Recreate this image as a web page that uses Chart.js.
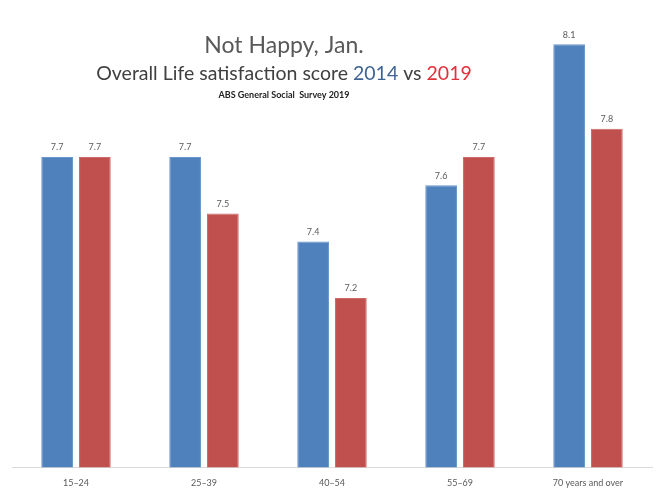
<!DOCTYPE html>
<html>
<head>
<meta charset="utf-8">
<script src="https://cdn.jsdelivr.net/npm/chart.js@4"></script>
<style>
  html, body { margin: 0; padding: 0; background: #fff; }
  #wrap { width: 664px; height: 499px; position: relative; }
</style>
</head>
<body>
<div id="wrap"><canvas id="chart"></canvas></div>
<script>
// data
const ageGroups = ["15\u201324", "25\u201339", "40\u201354", "55\u201369", "70 years and over"];
const score2014 = [7.7, 7.7, 7.4, 7.6, 8.1];
const score2019 = [7.7, 7.5, 7.2, 7.7, 7.8];

const blue = "#4F81BD";
const red = "#C0504D";
const grey = "#595959";
const font = "Lato, 'Liberation Sans', sans-serif";

// titles drawn by hand because the subtitle has coloured words
const titlePlugin = {
  id: "titles",
  afterDraw(chart) {
    const ctx = chart.ctx;
    const cx = 284;
    ctx.save();
    ctx.textBaseline = "alphabetic";
    ctx.textAlign = "center";
    ctx.fillStyle = grey;
    ctx.font = "23px " + font;
    ctx.fillText("Not Happy, Jan.", cx, 53);

    // subtitle in three colours
    ctx.font = "19.5px " + font;
    const parts = [["Overall Life satisfaction score ", "#404040"], ["2014", "#3F6494"], [" vs ", "#404040"], ["2019", "#E0303A"]];
    let total = 0;
    parts.forEach(p => total += ctx.measureText(p[0]).width);
    let x = cx - total / 2;
    ctx.textAlign = "left";
    parts.forEach(p => {
      ctx.fillStyle = p[1];
      ctx.fillText(p[0], x, 80);
      x += ctx.measureText(p[0]).width;
    });

    ctx.textAlign = "center";
    ctx.fillStyle = "#222";
    ctx.font = "bold 9px " + font;
    ctx.fillText("ABS General Social  Survey 2019", cx, 98);
    ctx.restore();
  }
};

// value labels over each bar
const labelPlugin = {
  id: "barLabels",
  afterDatasetsDraw(chart) {
    const ctx = chart.ctx;
    ctx.save();
    ctx.font = "9px " + font;
    ctx.fillStyle = grey;
    ctx.textAlign = "center";
    ctx.textBaseline = "bottom";
    chart.data.datasets.forEach((ds, i) => {
      chart.getDatasetMeta(i).data.forEach((bar, j) => {
        ctx.fillText(ds.data[j].toFixed(1), bar.x, bar.y - 5);
      });
    });
    ctx.restore();
  }
};

new Chart(document.getElementById("chart"), {
  type: "bar",
  data: {
    labels: ageGroups,
    datasets: [
      { label: "2014", data: score2014, backgroundColor: blue, borderColor: "#6B96CC", borderWidth: 1 },
      { label: "2019", data: score2019, backgroundColor: red, borderColor: "#CC6B68", borderWidth: 1 }
    ]
  },
  options: {
    responsive: true,
    maintainAspectRatio: false,
    animation: false,
    categoryPercentage: 0.59,
    barPercentage: 0.84,
    layout: { padding: { left: 12, right: 12, top: 16, bottom: 1 } },
    plugins: {
      legend: { display: false },
      tooltip: { enabled: false }
    },
    scales: {
      x: {
        grid: { display: false, drawTicks: false },
        border: { color: "#D9D9D9" },
        ticks: { color: grey, font: { size: 9, family: font }, padding: 10 }
      },
      y: {
        display: false,
        min: 6.6,
        max: 8.2
      }
    }
  },
  plugins: [titlePlugin, labelPlugin]
});
</script>
</body>
</html>
